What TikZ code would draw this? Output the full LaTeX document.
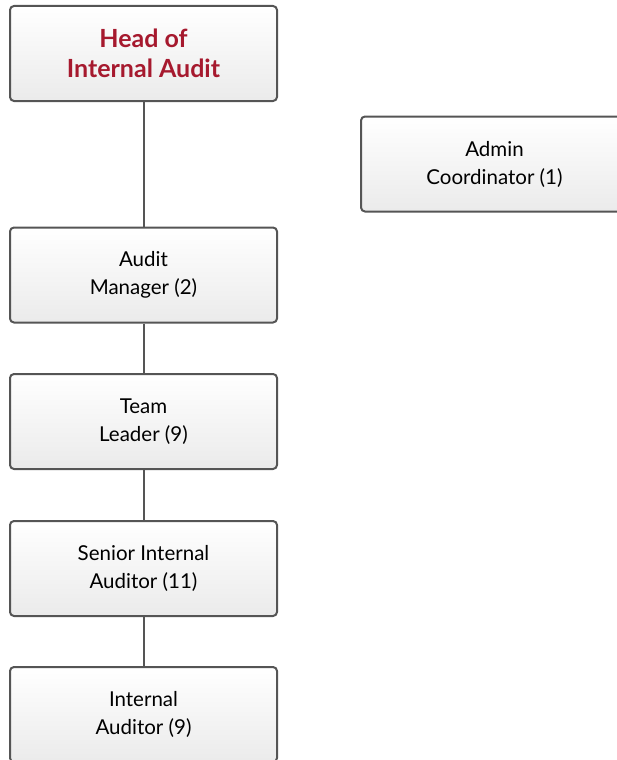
\documentclass[tikz,border=0pt]{standalone}
\usepackage{fontspec}
\setmainfont{Lato}
\definecolor{headred}{HTML}{A6192E}
\definecolor{edgegray}{HTML}{555555}
\begin{document}
\begin{tikzpicture}[x=1pt, y=-1pt,
  post/.style={draw=edgegray, line width=2pt, rounded corners=4pt, top color=white, bottom color=black!8, minimum width=267pt, minimum height=95pt, inner sep=0pt, align=center, font=\fontsize{20.5}{28}\selectfont},
  head/.style={post, text=headred, font=\fontsize{25}{30}\selectfont\bfseries},
  link/.style={draw=edgegray, line width=2pt}]
\useasboundingbox (0,0) rectangle (617,760);
\clip (0,0) rectangle (617,760);
\node (hd) at (143.5,53.5) [head] {Head of\\Internal Audit};
\node (ac) at (494.5,164) [post] {Admin\\Coordinator (1)};
\node (am) at (143.5,275) [post] {Audit\\Manager (2)};
\node (tl) at (143.5,421.5) [post] {Team\\Leader (9)};
\node (si) at (143.5,568.5) [post] {Senior Internal\\Auditor (11)};
\node (ia) at (143.5,714.5) [post] {Internal\\Auditor (9)};

\draw [link] (hd) to (am);
\draw [link] (am) to (tl);
\draw [link] (tl) to (si);
\draw [link] (si) to (ia);
\end{tikzpicture}
\end{document}
